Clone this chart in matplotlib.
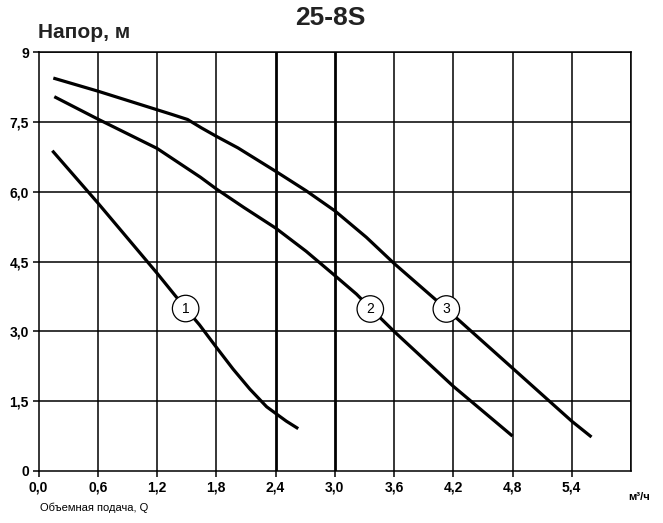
import matplotlib
import matplotlib.pyplot as plt
import numpy as np

matplotlib.rcParams['font.family'] = ['Liberation Sans Narrow', 'Liberation Sans', 'DejaVu Sans']

# Кривые насоса 25-8S (подача м3/ч, напор м)
q1 = [0.14, 0.6, 1.2, 1.49, 1.63, 1.8, 1.97, 2.14, 2.31, 2.4, 2.51, 2.63]
h1 = [6.88, 5.76, 4.25, 3.49, 3.14, 2.66, 2.19, 1.76, 1.38, 1.24, 1.07, 0.91]

q2 = [0.16, 0.6, 1.2, 1.64, 1.8, 2.08, 2.4, 2.71, 3.0, 3.22, 3.36, 3.6, 4.2, 4.8]
h2 = [8.04, 7.56, 6.93, 6.31, 6.06, 5.66, 5.22, 4.72, 4.2, 3.8, 3.5, 3.0, 1.82, 0.75]

q3 = [0.15, 0.6, 1.2, 1.35, 1.51, 1.65, 1.8, 2.02, 2.4, 2.71, 3.0, 3.32, 3.6, 4.13, 4.8, 5.4, 5.6]
h3 = [8.44, 8.16, 7.76, 7.66, 7.55, 7.37, 7.19, 6.94, 6.44, 6.02, 5.59, 5.02, 4.46, 3.48, 2.21, 1.07, 0.73]

curve_labels = ['1', '2', '3']
label_q = [1.49, 3.36, 4.13]
label_h = [3.49, 3.48, 3.48]

x_ticks = [0.0, 0.6, 1.2, 1.8, 2.4, 3.0, 3.6, 4.2, 4.8, 5.4]
x_tick_labels = ['0,0', '0,6', '1,2', '1,8', '2,4', '3,0', '3,6', '4,2', '4,8', '5,4']
y_ticks = [0, 1.5, 3.0, 4.5, 6.0, 7.5, 9]
y_tick_labels = ['0', '1,5', '3,0', '4,5', '6,0', '7,5', '9']

fig = plt.figure(figsize=(6.63, 5.23), dpi=100)
ax = fig.add_axes([38.5 / 663, 52 / 523, 592.5 / 663, 419 / 523])
ax.set_xlim(0, 6.0)
ax.set_ylim(0, 9)

# сетка
for xv in x_ticks[1:] + [6.0]:
    lw = 2.0 if xv in (2.4, 3.0) else 1.1
    ax.axvline(xv, color='black', linewidth=lw, zorder=1)
for yv in y_ticks[1:]:
    ax.axhline(yv, color='black', linewidth=1.1, zorder=1)

for s in ax.spines.values():
    s.set_linewidth(1.1)

for q, h in [(q1, h1), (q2, h2), (q3, h3)]:
    ax.plot(q, h, color='black', linewidth=2.3, solid_capstyle='butt',
            solid_joinstyle='round', zorder=3)

for lab, qx, hy in zip(curve_labels, label_q, label_h):
    ax.text(qx, hy, lab, ha='center', va='center', fontsize=10, zorder=5,
            bbox=dict(boxstyle='circle,pad=0.45', facecolor='white', edgecolor='black', linewidth=0.9))

ax.set_xticks(x_ticks)
ax.set_xticklabels(x_tick_labels, fontsize=10, fontweight='bold')
ax.set_yticks(y_ticks)
ax.set_yticklabels(y_tick_labels, fontsize=10, fontweight='bold')
ax.tick_params(direction='out', length=4, width=1.1, pad=3)

ax.text(6.08, -0.55, 'м³/ч', ha='center', va='center', fontsize=8, fontweight='bold')
fig.text(40 / 663, 1 - 508 / 523, 'Объемная подача, Q', ha='left', va='center', fontsize=8)
fig.text(38 / 663, 1 - 32 / 523, 'Напор, м', ha='left', va='center', fontsize=15, fontweight='bold',
         color='#222222')
fig.text(330 / 663, 1 - 18 / 523, '25-8S', ha='center', va='center', fontsize=19, fontweight='bold',
         color='#222222')

fig.savefig('out.png', dpi=100)
